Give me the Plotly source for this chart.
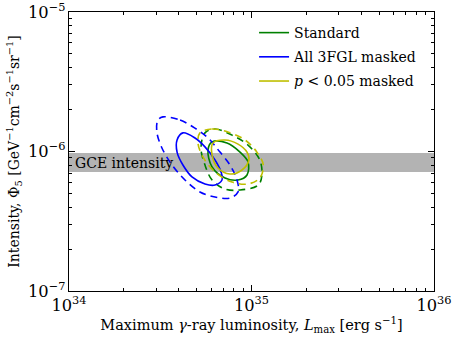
import numpy as np
import plotly.graph_objects as go

# contour outlines (L in erg/s, Phi in GeV^-1 cm^-2 s^-1 sr^-1)
std_L_1s = [6.08e34, 7.34e34, 8.65e34, 9.57e34, 9.45e34, 8.44e34, 7.16e34, 6.08e34, 5.78e34, 6.08e34]
std_F_1s = [1.17e-6, 1.15e-6, 0.99e-6, 0.841e-6, 0.679e-6, 0.625e-6, 0.646e-6, 0.774e-6, 1.03e-6, 1.17e-6]
std_L_2s = [5.56e34, 6.31e34, 7.82e34, 9.57e34, 11.1e34, 11.4e34, 10.9e34, 8.65e34, 7.16e34, 6.08e34, 5.56e34, 5.29e34, 5.56e34]
std_F_2s = [1.36e-6, 1.45e-6, 1.31e-6, 1.11e-6, 0.869e-6, 0.679e-6, 0.575e-6, 0.530e-6, 0.538e-6, 0.625e-6, 0.80e-6, 1.06e-6, 1.36e-6]

fgl_L_1s = [4.21e34, 4.90e34, 5.56e34, 6.31e34, 6.81e34, 6.89e34, 6.31e34, 5.56e34, 4.72e34, 4.21e34, 3.91e34, 3.91e34, 4.21e34]
fgl_F_1s = [1.36e-6, 1.25e-6, 1.08e-6, 0.869e-6, 0.713e-6, 0.625e-6, 0.575e-6, 0.585e-6, 0.657e-6, 0.80e-6, 0.99e-6, 1.21e-6, 1.36e-6]
fgl_L_2s = [3.27e34, 4.06e34, 4.90e34, 5.78e34, 6.72e34, 7.62e34, 8.33e34, 8.44e34, 7.62e34, 6.31e34, 5.22e34, 4.32e34, 3.67e34, 3.23e34, 3.03e34, 3.07e34, 3.27e34]
fgl_F_2s = [1.77e-6, 1.68e-6, 1.47e-6, 1.25e-6, 0.99e-6, 0.80e-6, 0.625e-6, 0.513e-6, 0.464e-6, 0.472e-6, 0.513e-6, 0.625e-6, 0.80e-6, 1.06e-6, 1.38e-6, 1.68e-6, 1.77e-6]

p05_L_1s = [6.15e34, 7.16e34, 8.44e34, 9.45e34, 9.68e34, 8.87e34, 7.62e34, 6.55e34, 6.08e34, 6.15e34]
p05_F_1s = [1.15e-6, 1.21e-6, 1.13e-6, 0.99e-6, 0.869e-6, 0.737e-6, 0.69e-6, 0.762e-6, 0.944e-6, 1.15e-6]
p05_L_2s = [5.22e34, 6.08e34, 7.43e34, 9.21e34, 10.7e34, 11.6e34, 11.1e34, 9.57e34, 7.82e34, 6.31e34, 5.42e34, 5.09e34, 5.22e34]
p05_F_2s = [1.36e-6, 1.45e-6, 1.38e-6, 1.21e-6, 0.99e-6, 0.80e-6, 0.646e-6, 0.585e-6, 0.604e-6, 0.713e-6, 0.914e-6, 1.15e-6, 1.36e-6]

# GCE intensity band
gce_lo = 0.713e-6
gce_hi = 0.975e-6
L_range = [1e34, 1e36]

# minor tick positions
L_minor = [m * 10.0**e for e in (34, 35) for m in range(2, 10)]
F_minor = [m * 10.0**e for e in (-7, -6) for m in range(2, 10)]

serif = "DejaVu Serif"

fig = go.Figure()

fig.add_trace(go.Scatter(
    x=[L_range[0], L_range[1], L_range[1], L_range[0]],
    y=[gce_lo, gce_lo, gce_hi, gce_hi],
    fill="toself", fillcolor="#b3b3b3", line=dict(width=0),
    mode="lines", showlegend=False, hoverinfo="skip"))

series = [
    ("Standard", "#008000", std_L_1s, std_F_1s, std_L_2s, std_F_2s),
    ("All 3FGL masked", "#0000ff", fgl_L_1s, fgl_F_1s, fgl_L_2s, fgl_F_2s),
    ("<i>p</i> < 0.05 masked", "#bfbf00", p05_L_1s, p05_F_1s, p05_L_2s, p05_F_2s),
]
for name, col, x1, y1, x2, y2 in series:
    fig.add_trace(go.Scatter(x=x1, y=y1, mode="lines", name=name, legendgroup=name,
                             line=dict(color=col, width=1.6, shape="spline")))
    fig.add_trace(go.Scatter(x=x2, y=y2, mode="lines", showlegend=False, legendgroup=name,
                             line=dict(color=col, width=1.6, shape="spline", dash="7px,5px")))

# empty trace so the minor-tick axes get drawn
fig.add_trace(go.Scatter(x=[], y=[], xaxis="x2", yaxis="y2", showlegend=False))

fig.add_annotation(x=0.01, xref="paper", xanchor="left",
                   y=np.log10(np.sqrt(gce_lo * gce_hi)), yref="y",
                   text="GCE intensity", showarrow=False,
                   font=dict(family=serif, size=14, color="black"))

axis_common = dict(
    type="log", showgrid=False, zeroline=False, showline=True, linecolor="black",
    linewidth=1, mirror="allticks", ticks="inside", ticklen=6, tickcolor="black",
    dtick=1, exponentformat="power", automargin=False, ticklabeloverflow="allow",
    tickfont=dict(family=serif, size=13, color="black"),
)

fig.update_layout(
    xaxis=dict(range=[34, 36], **axis_common,
               title=dict(text="Maximum <i>γ</i>-ray luminosity, <i>L</i><sub>max</sub> [erg s<sup>−1</sup>]",
                          font=dict(family=serif, size=14.5, color="black"), standoff=2)),
    yaxis=dict(range=[-7, -5], **axis_common,
               title=dict(text="Intensity, Φ<sub>5</sub> [GeV<sup>−1</sup>cm<sup>−2</sup>s<sup>−1</sup>sr<sup>−1</sup>]",
                          font=dict(family=serif, size=14, color="black"), standoff=5)),
    xaxis2=dict(type="log", range=[34, 36], overlaying="x", anchor="y", side="bottom",
                tickvals=L_minor, ticks="inside", ticklen=3, tickcolor="black",
                showticklabels=False, showgrid=False, zeroline=False, showline=False,
                mirror="allticks", automargin=False),
    yaxis2=dict(type="log", range=[-7, -5], overlaying="y", anchor="x", side="left",
                tickvals=F_minor, ticks="inside", ticklen=3, tickcolor="black",
                showticklabels=False, showgrid=False, zeroline=False, showline=False,
                mirror="allticks", automargin=False),
    width=457, height=343,
    margin=dict(l=69, r=23, t=12, b=52),
    plot_bgcolor="white", paper_bgcolor="white",
    legend=dict(x=0.507, y=0.982, xanchor="left", yanchor="top",
                bgcolor="rgba(0,0,0,0)", itemwidth=30,
                font=dict(family=serif, size=14, color="black"),
                tracegroupgap=3),
)

# drop the page's default body margin so the figure sits at the window origin
fig.write_html("out.html", config={"displayModeBar": False},
               post_script="document.body.style.margin='0';")
